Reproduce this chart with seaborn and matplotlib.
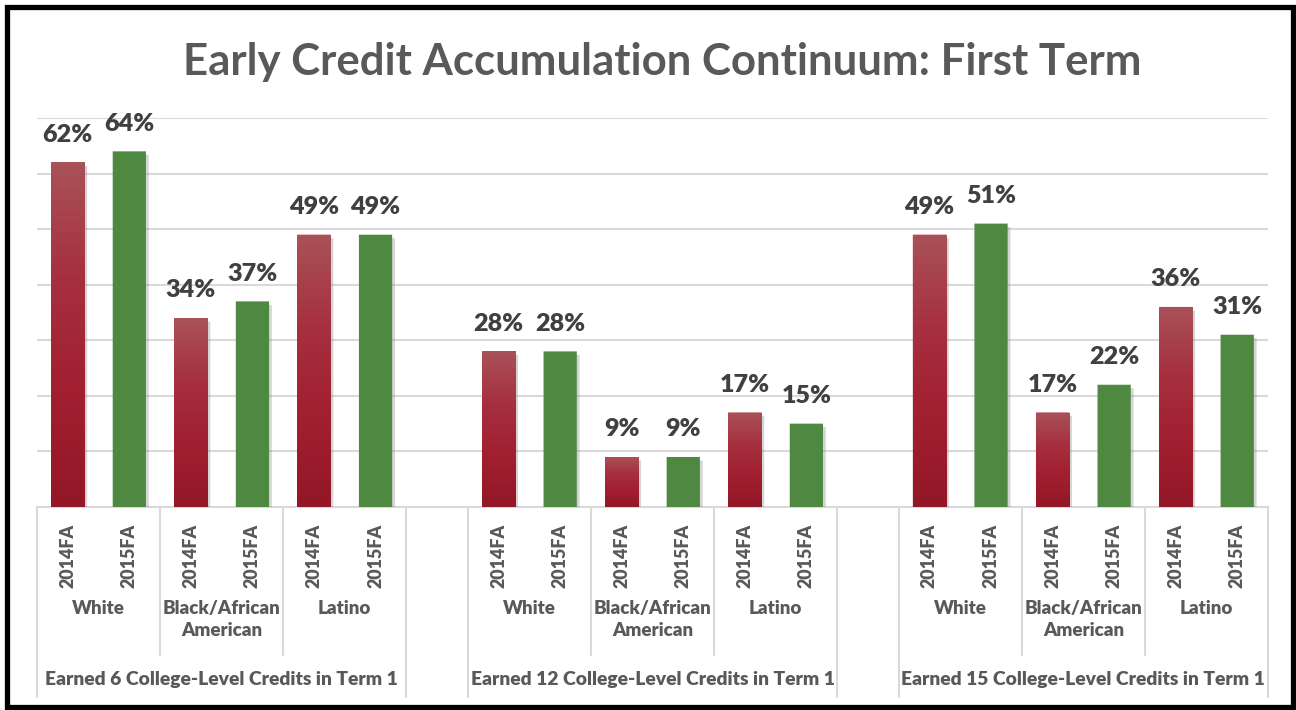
import numpy as np
import pandas as pd
import matplotlib.pyplot as plt
import matplotlib.patheffects as pe
from matplotlib.patches import Rectangle
from matplotlib.colors import LinearSegmentedColormap
from matplotlib import font_manager
import seaborn as sns

# 데이터
groups = ['Earned 6 College-Level Credits in Term 1',
          'Earned 12 College-Level Credits in Term 1',
          'Earned 15 College-Level Credits in Term 1']
races = ['White', 'Black/African\nAmerican', 'Latino']
years = ['2014FA', '2015FA']
vals_2014 = [[62, 34, 49], [28, 9, 17], [49, 17, 36]]
vals_2015 = [[64, 37, 49], [28, 9, 15], [51, 22, 31]]

# 슬롯 만들기 (그룹 사이 빈 칸 포함)
rows = []
order = []
for g in range(len(groups)):
    for r in range(len(races)):
        for y, vals in zip(years, [vals_2014, vals_2015]):
            slot = f'{g}-{r}-{y}'
            order.append(slot)
            rows.append({'slot': slot, 'year': y, 'value': vals[g][r],
                         'group': g, 'race': r})
    if g < len(groups) - 1:
        order.append(f'gap{g}')
df = pd.DataFrame(rows)

# 굵은 글꼴이 있는 패밀리 고르기
font = 'DejaVu Sans'
for cand in ['Lato', 'Roboto', 'Open Sans', 'Noto Sans']:
    if any(f.name == cand and f.weight in (700, 'bold') for f in font_manager.fontManager.ttflist):
        font = cand
        break

sns.set_style('white')
plt.rcParams['font.family'] = [font, 'DejaVu Sans']

RED = '#A32231'
GREEN = '#4F8841'
GRID = '#D9D9D9'
TXT = '#595959'
LBL = '#404040'
HEAVY = 800

fig = plt.figure(figsize=(12.96, 7.10), dpi=100)
renderer = fig.canvas.get_renderer()


def fit(text, px, weight='bold'):
    # 목표 픽셀 폭에 맞는 글자 크기
    t = fig.text(0, 0, text, fontsize=10, fontweight=weight)
    w = t.get_window_extent(renderer).width
    t.remove()
    return 10 * px / w


ax = fig.add_axes([37 / 1296, 1 - 507 / 710, 1231 / 1296, (507 - 118) / 710])

sns.barplot(data=df, x='slot', y='value', hue='year', order=order,
            palette={'2014FA': RED, '2015FA': GREEN}, dodge=False,
            width=0.54, saturation=1, legend=False, ax=ax, zorder=3)

ax.set_yticks(np.arange(10, 71, 10))
ax.yaxis.grid(True, color=GRID, linewidth=1.5)
ax.set_axisbelow(True)
ax.set_yticklabels([])
ax.tick_params(axis='y', length=0)
for s in ['left', 'right', 'top']:
    ax.spines[s].set_visible(False)
ax.spines['bottom'].set_color(GRID)
ax.spines['bottom'].set_linewidth(1.5)
ax.set_xlabel('')
ax.set_ylabel('')

# 빨간 막대 그라데이션 + 그림자 + 값 표시
grad = np.linspace(0, 1, 256).reshape(-1, 1)
red_cmap = LinearSegmentedColormap.from_list(
    'r', ['#931727', '#A11F30', '#A6303F', '#A95259'])
lbl_size = fit('62%', 50, HEAVY)
for p in ax.patches:
    if p.get_height() <= 0:
        continue
    p.set_snap(False)
    p.set_linewidth(0)
    p.set_path_effects([pe.SimplePatchShadow(offset=(2, -2.5), shadow_rgbFace='#777777',
                                             alpha=0.3), pe.Normal()])
    fc = p.get_facecolor()
    x0, w, h = p.get_x(), p.get_width(), p.get_height()
    if fc[0] > fc[1]:
        im = ax.imshow(grad, cmap=red_cmap, aspect='auto', origin='lower',
                       extent=[x0, x0 + w, 0, h], zorder=3.5, interpolation='bilinear')
        im.set_clip_path(p)
    ax.annotate(f'{h:.0f}%', (x0 + w / 2, h), xytext=(0, 15),
                textcoords='offset points', ha='center', va='baseline',
                fontsize=lbl_size, fontweight=HEAVY, color=LBL, zorder=5)
ax.set_xlim(-0.5, len(order) - 0.5)
ax.set_ylim(0, 70)

# x축 라벨
pos = [order.index(s) for s in df['slot']]
ax.set_xticks(pos)
ax.set_xticklabels(df['year'], rotation=90, fontsize=fit('2014FA', 64, HEAVY),
                   fontweight=HEAVY, color=TXT)
ax.tick_params(axis='x', length=0, pad=12)

trans = ax.get_xaxis_transform()


def fy(py):
    return (507 - py) / (507 - 118)


grp_size = fit(groups[0], 354, HEAVY)
race_size = fit('White', 53, HEAVY)
for g in range(len(groups)):
    sub = df[df['group'] == g]
    gpos = [order.index(s) for s in sub['slot']]
    gx0, gx1 = min(gpos) - 0.5, max(gpos) + 0.5
    ax.text((gx0 + gx1) / 2, fy(680), groups[g], transform=trans, ha='center',
            va='center', fontsize=grp_size, fontweight=HEAVY, color=TXT)
    for xx in [gx0, gx1]:
        ax.plot([xx, xx], [0, fy(697)], transform=trans, color=GRID, lw=1.5,
                clip_on=False)
    for r in range(len(races)):
        rpos = [order.index(s) for s in sub[sub['race'] == r]['slot']]
        rx0, rx1 = min(rpos) - 0.5, max(rpos) + 0.5
        ax.text((rx0 + rx1) / 2, fy(600), races[r], transform=trans, ha='center',
                va='top', fontsize=race_size, fontweight=HEAVY, color=TXT,
                linespacing=1.35)
        if r > 0:
            ax.plot([rx0, rx0], [0, fy(655)], transform=trans, color=GRID, lw=1.5,
                    clip_on=False)

# 제목
title = 'Early Credit Accumulation Continuum: First Term'
fig.text(662 / 1296, 1 - 62 / 710, title, ha='center', va='center',
         fontsize=fit(title, 962), fontweight='bold', color=TXT)

# 테두리
fig.patches.append(Rectangle((6.5 / 1296, 1 - 707 / 710), 1286 / 1296, 700 / 710,
                             transform=fig.transFigure, fill=False, edgecolor='black',
                             linewidth=3.8))

plt.savefig('out.png', dpi=100)
